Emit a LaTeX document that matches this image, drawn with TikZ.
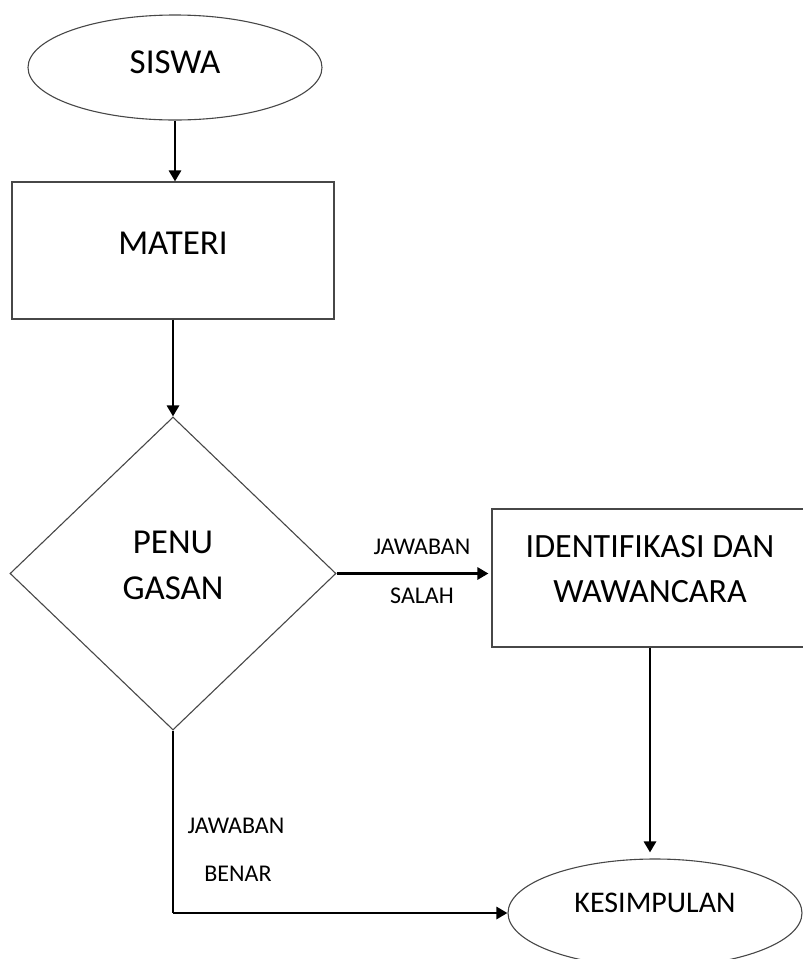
\documentclass[tikz,border=0pt]{standalone}
\usepackage{fontspec}
\setmainfont{Carlito}
\usetikzlibrary{shapes.geometric,arrows.meta}
\begin{document}
\begin{tikzpicture}[x=1pt,y=-1pt,
  shp/.style={draw=black!72, line width=1.1pt, inner sep=0pt},
  txt/.style={inner sep=0pt, text height=22pt, text depth=0pt, font=\fontsize{35}{42}\selectfont},
  txti/.style={inner sep=0pt, text height=21.4pt, text depth=0pt, font=\fontsize{34}{41}\selectfont},
  txtk/.style={inner sep=0pt, text height=18.9pt, text depth=0pt, font=\fontsize{30}{36}\selectfont},
  small/.style={inner sep=0pt, text height=15.1pt, text depth=0pt, font=\fontsize{24}{29}\selectfont},
  arr/.style={draw=black, line width=2.8pt, -{Triangle[length=11pt,width=12pt]}},
  ln/.style={draw=black, line width=2.8pt}]
\useasboundingbox (0,0) rectangle (803,959);
\clip (0,0) rectangle (803,959);
% shapes
\node[shp, ellipse, minimum width=294, minimum height=105] (siswa) at (175,67.5) {};
\node[shp, rectangle, minimum width=322, minimum height=137] (materi) at (173,250.5) {};
\node[shp, diamond, minimum width=326, minimum height=313] (uji) at (173,573.5) {};
\node[shp, rectangle, minimum width=320, minimum height=138] (ident) at (652,578) {};
\node[shp, ellipse, minimum width=294, minimum height=108] (kes) at (655,913) {};
% texts
\node[txt] (t-siswa) at (175,62) {SISWA};
\node[txt] (t-materi) at (173,243) {MATERI};
\node[txt] (t-penu) at (173,542) {PENU};
\node[txt] (t-gasan) at (173,588) {GASAN};
\node[txti] (t-ident) at (650,547) {IDENTIFIKASI DAN};
\node[txti] (t-wawan) at (650,592) {WAWANCARA};
\node[txtk] (t-kes) at (655,903) {KESIMPULAN};
\node[small] (l-jaw1) at (422,547) {JAWABAN};
\node[small] (l-salah) at (422,596) {SALAH};
\node[small] (l-jaw2) at (236,826) {JAWABAN};
\node[small] (l-benar) at (238,874) {BENAR};
% connectors
\coordinate (corner) at (uji.south |- kes.west);
\draw[arr] (siswa.south) -- (siswa.south |- materi.north);
\draw[arr] (materi.south) -- (uji.north);
\draw[arr] (uji.east) -- ([xshift=-3pt]ident.west |- uji.east);
\draw[arr, shorten >=6pt] ([xshift=-2pt]ident.south) -- ([xshift=-2pt]ident.south |- kes.north);
\draw[ln] (uji.south) -- (corner);
\draw[arr] (corner) -- (kes.west);
\end{tikzpicture}
\end{document}
